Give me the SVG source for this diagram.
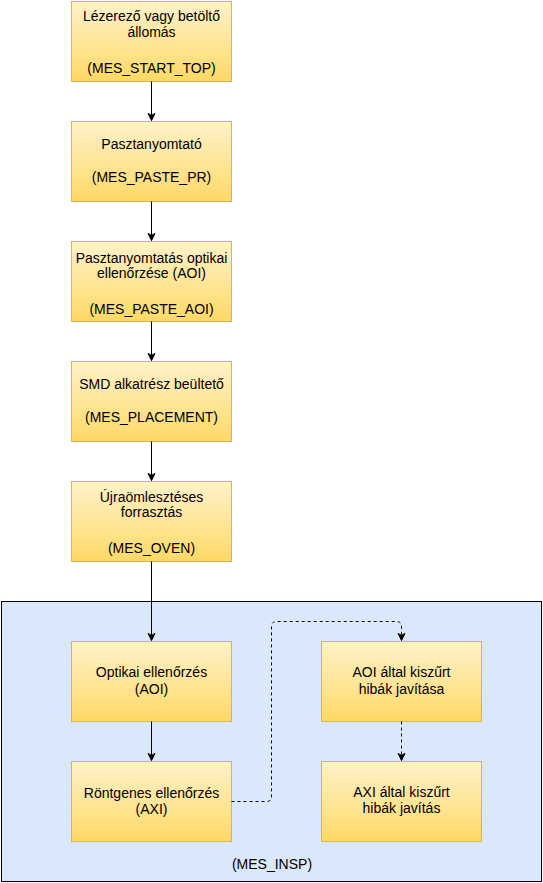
<svg xmlns="http://www.w3.org/2000/svg" width="543" height="883" viewBox="0 0 543 883">
<defs>
<linearGradient id="g" x1="0" y1="0" x2="0" y2="1">
<stop offset="0" stop-color="#fff2cc"/>
<stop offset="1" stop-color="#ffd966"/>
</linearGradient>
<marker id="ah" markerWidth="10" markerHeight="10" refX="8" refY="5" orient="auto" markerUnits="userSpaceOnUse">
<path d="M1,1.5 L8,5 L1,8.5 L2.8,5 Z" fill="#000" stroke="#000" stroke-width="1"/>
</marker>
<style>
.box{fill:url(#g);stroke:#d6b656;stroke-width:1}
.t{font-family:"Liberation Sans",Arial,sans-serif;font-size:14px;fill:#000;text-anchor:middle}
.c{fill:none;stroke:#000;stroke-width:1;marker-end:url(#ah)}
.d{stroke-dasharray:3 3}
</style>
</defs>
<g id="container">
<rect x="1.5" y="601.5" width="540" height="280" fill="#dae8fc" stroke="#000"/>
<text class="t" x="272" y="869">(MES_INSP)</text>
</g>
<g id="start">
<rect class="box" x="71.5" y="1.5" width="160" height="80"/>
<text class="t" x="151.5" y="21">Lézerező vagy betöltő</text>
<text class="t" x="151.5" y="37">állomás</text>
<text class="t" x="151.5" y="73">(MES_START_TOP)</text>
</g>
<g id="paste_pr">
<rect class="box" x="71.5" y="121.5" width="160" height="80"/>
<text class="t" x="151.5" y="149">Pasztanyomtató</text>
<text class="t" x="151.5" y="182">(MES_PASTE_PR)</text>
</g>
<g id="paste_aoi">
<rect class="box" x="71.5" y="241.5" width="160" height="80"/>
<text class="t" x="151.5" y="263">Pasztanyomtatás optikai</text>
<text class="t" x="151.5" y="278">ellenőrzése (AOI)</text>
<text class="t" x="151.5" y="314">(MES_PASTE_AOI)</text>
</g>
<g id="placement">
<rect class="box" x="71.5" y="361.5" width="160" height="80"/>
<text class="t" x="151.5" y="389">SMD alkatrész beültető</text>
<text class="t" x="151.5" y="422">(MES_PLACEMENT)</text>
</g>
<g id="oven">
<rect class="box" x="71.5" y="481.5" width="160" height="80"/>
<text class="t" x="151.5" y="502">Újraömlesztéses</text>
<text class="t" x="151.5" y="517">forrasztás</text>
<text class="t" x="151.5" y="553">(MES_OVEN)</text>
</g>
<g id="aoi">
<rect class="box" x="71.5" y="641.5" width="160" height="80"/>
<text class="t" x="151.5" y="677">Optikai ellenőrzés</text>
<text class="t" x="151.5" y="694">(AOI)</text>
</g>
<g id="axi">
<rect class="box" x="71.5" y="761.5" width="160" height="80"/>
<text class="t" x="151.5" y="798">Röntgenes ellenőrzés</text>
<text class="t" x="151.5" y="814">(AXI)</text>
</g>
<g id="aoi_repair">
<rect class="box" x="321.5" y="641.5" width="160" height="80"/>
<text class="t" x="401.5" y="677">AOI által kiszűrt</text>
<text class="t" x="401.5" y="694">hibák javítása</text>
</g>
<g id="axi_repair">
<rect class="box" x="321.5" y="761.5" width="160" height="80"/>
<text class="t" x="401.5" y="797">AXI által kiszűrt</text>
<text class="t" x="401.5" y="813">hibák javítás</text>
</g>
<g id="connectors">
<path class="c" d="M151.5,81.5 V120.5"/>
<path class="c" d="M151.5,201.5 V240.5"/>
<path class="c" d="M151.5,321.5 V360.5"/>
<path class="c" d="M151.5,441.5 V480.5"/>
<path class="c" d="M151.5,561.5 V640.5"/>
<path class="c" d="M151.5,721.5 V760.5"/>
<path class="c d" d="M231.5,801.5 H266.5 Q271.5,801.5 271.5,796.5 V626.5 Q271.5,621.5 276.5,621.5 H396.5 Q401.5,621.5 401.5,626.5 V640.5"/>
<path class="c d" d="M401.5,721.5 V760.5"/>
</g>
</svg>
